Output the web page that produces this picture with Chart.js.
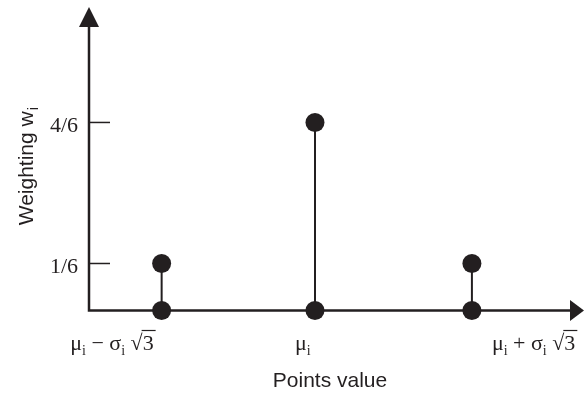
<!DOCTYPE html>
<html><head><meta charset="utf-8">
<script src="https://cdn.jsdelivr.net/npm/chart.js@4"></script>
<style>html,body{margin:0;padding:0;background:#fff;}#wrap{width:584px;height:393px;}</style>
</head><body><div id="wrap"><canvas id="c" width="584" height="393"></canvas></div>
<script>
// ---- data ----
const categories = ['μi − σi √3', 'μi', 'μi + σi √3'];
const positions = [-1.71, 0, 1.75];          // point positions (units of σ)
const weights = [1/6, 4/6, 1/6];             // weighting w_i
const yTickValues = [1/6, 4/6];
const yTickLabels = ['1/6', '4/6'];
const xTitle = 'Points value';
const yTitle = 'Weighting w';
const yTitleSub = 'i';
// rich segments for category labels: [text, kind] kind 0=normal,1=subscript,2=overlined
const categorySegments = [
  [['μ',0],['i',1],[' − ',0],['σ',0],['i',1],[' ',0],['√',0],['3',2]],
  [['μ',0],['i',1]],
  [['μ',0],['i',1],[' + ',0],['σ',0],['i',1],[' ',0],['√',0],['3',2]]
];

const INK = '#231f20';
const SERIF = '"Liberation Serif", "DejaVu Serif", serif';
const SANS = '"Liberation Sans", Arial, sans-serif';

const datasets = positions.map((p, i) => ({
  label: categories[i],
  data: [{x: p, y: 0}, {x: p, y: weights[i]}],
  showLine: true,
  borderColor: INK,
  borderWidth: 2,
  backgroundColor: INK,
  pointBackgroundColor: INK,
  pointBorderColor: INK,
  pointBorderWidth: 0,
  pointRadius: 9.5,
  clip: false
}));

function segFont(kind){ return kind === 1 ? '14px ' + SERIF : '22px ' + SERIF; }
function drawRich(ctx, segs, x, base, align){
  let total = 0;
  segs.forEach(s => { ctx.font = segFont(s[1]); total += ctx.measureText(s[0]).width; });
  let cx = align === 'right' ? x - total : (align === 'center' ? x - total/2 : x);
  ctx.textAlign = 'left'; ctx.textBaseline = 'alphabetic';
  segs.forEach((s, k) => {
    ctx.font = segFont(s[1]);
    const w = ctx.measureText(s[0]).width;
    const by = s[1] === 1 ? base + 5 : base;
    ctx.fillText(s[0], cx, by);
    if (s[1] === 2) {
      ctx.lineWidth = 1.2;
      ctx.beginPath(); ctx.moveTo(cx - 1, base - 19); ctx.lineTo(cx + w + 2, base - 19); ctx.stroke();
    }
    cx += w;
  });
}

const axesPlugin = {
  id: 'axesDraw',
  beforeDatasetsDraw(chart){
    const {ctx, chartArea: a, scales: {x, y}} = chart;
    const x0 = x.left, y0 = y.getPixelForValue(0);
    ctx.save();
    ctx.strokeStyle = INK; ctx.fillStyle = INK;
    ctx.lineWidth = 2.5; ctx.lineJoin = 'miter';
    ctx.beginPath();
    ctx.moveTo(x0, a.top + 19); ctx.lineTo(x0, y0); ctx.lineTo(a.right - 13, y0);
    ctx.stroke();
    ctx.beginPath(); ctx.moveTo(x0, a.top); ctx.lineTo(x0 - 10, a.top + 20); ctx.lineTo(x0 + 10, a.top + 20); ctx.closePath(); ctx.fill();
    ctx.beginPath(); ctx.moveTo(a.right, y0); ctx.lineTo(a.right - 14, y0 - 10.5); ctx.lineTo(a.right - 14, y0 + 10.5); ctx.closePath(); ctx.fill();
    // y ticks
    ctx.lineWidth = 1.5;
    yTickValues.forEach((v, i) => {
      const py = y.getPixelForValue(v);
      ctx.beginPath(); ctx.moveTo(x0, py); ctx.lineTo(x0 + 21, py); ctx.stroke();
      ctx.font = '22px ' + SERIF; ctx.textAlign = 'right'; ctx.textBaseline = 'alphabetic';
      ctx.fillText(yTickLabels[i], x0 - 11, py + 10);
    });
    // x category labels
    const anchors = [['right', -8], ['left', -20], ['left', 20]];
    positions.forEach((p, i) => {
      const px = x.getPixelForValue(p);
      drawRich(ctx, categorySegments[i], px + anchors[i][1], y0 + 39, anchors[i][0]);
    });
    // x title
    ctx.font = '21px ' + SANS; ctx.textAlign = 'center'; ctx.textBaseline = 'alphabetic';
    ctx.fillText(xTitle, x.getPixelForValue(positions[1]) + 15, y0 + 76);
    // y title
    ctx.save();
    ctx.translate(33, (a.top + y0) / 2 + 8);
    ctx.rotate(-Math.PI / 2);
    ctx.font = '21px ' + SANS;
    const w1 = ctx.measureText(yTitle).width;
    ctx.font = '14px ' + SANS;
    const w2 = ctx.measureText(yTitleSub).width;
    const start = -(w1 + w2) / 2;
    ctx.textAlign = 'left';
    ctx.font = '21px ' + SANS; ctx.fillText(yTitle, start, 0);
    ctx.font = '14px ' + SANS; ctx.fillText(yTitleSub, start + w1 + 1, 5);
    ctx.restore();
    ctx.restore();
  }
};

new Chart(document.getElementById('c'), {
  type: 'scatter',
  data: { datasets },
  options: {
    responsive: false,
    animation: false,
    devicePixelRatio: 1,
    layout: { autoPadding: false, padding: { left: 89, right: 0, top: 7, bottom: 82.5 } },
    plugins: { legend: { display: false }, tooltip: { enabled: false } },
    scales: {
      x: { type: 'linear', min: -2.52, max: 3.0, display: false },
      y: { type: 'linear', min: 0, max: 1.076, display: false }
    }
  },
  plugins: [axesPlugin]
});
</script>
</body></html>
